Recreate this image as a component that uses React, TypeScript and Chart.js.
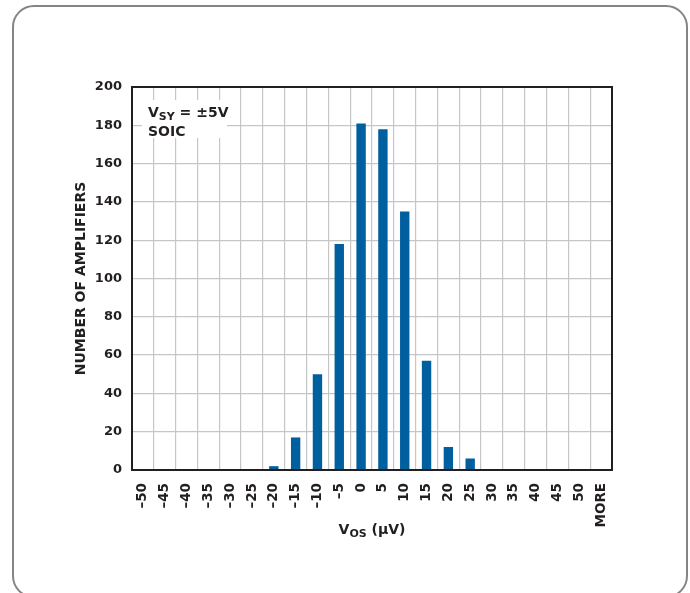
import React, { useEffect, useRef } from "react";
import { Chart, registerables } from "chart.js";

Chart.register(...registerables);

// ---- data ----
const categories = [
  "–50", "–45", "–40", "–35", "–30", "–25", "–20", "–15", "–10", "–5",
  "0", "5", "10", "15", "20", "25", "30", "35", "40", "45", "50", "MORE",
];
const amplifierCounts = [0, 0, 0, 0, 0, 0, 2, 17, 50, 118, 181, 178, 135, 57, 12, 6, 0, 0, 0, 0, 0, 0];
const yMin = 0;
const yMax = 200;
const yStep = 20;
const yAxisTitle = "NUMBER OF AMPLIFIERS";
type Part = { text: string; sub?: boolean };
const xAxisTitleParts: Part[] = [{ text: "V" }, { text: "OS", sub: true }, { text: " (μV)" }];
const noteLine1: Part[] = [{ text: "V" }, { text: "SY", sub: true }, { text: " = ±5V" }];
const noteLine2: Part[] = [{ text: "SOIC" }];

const FONT = "'DejaVu Sans', 'Liberation Sans', sans-serif";
const INK = "#231f20";
const BAR = "#005f9e";
const GRID = "#c6c6c6";

function drawRich(
  ctx: CanvasRenderingContext2D,
  parts: Part[],
  x: number,
  y: number,
  size: number,
  subSize: number,
  align: "left" | "center"
) {
  let total = 0;
  const widths = parts.map((p) => {
    ctx.font = `bold ${p.sub ? subSize : size}px ${FONT}`;
    const w = ctx.measureText(p.text).width;
    total += w;
    return w;
  });
  let cx = align === "center" ? x - total / 2 : x;
  ctx.textAlign = "left";
  ctx.textBaseline = "alphabetic";
  ctx.fillStyle = INK;
  parts.forEach((p, i) => {
    ctx.font = `bold ${p.sub ? subSize : size}px ${FONT}`;
    ctx.fillText(p.text, cx, y + (p.sub ? 3 : 0));
    cx += widths[i];
  });
}

const overlayPlugin = {
  id: "overlay",
  afterDraw(chart: any) {
    const { ctx, chartArea: a } = chart;
    ctx.save();
    // note box
    ctx.fillStyle = "#ffffff";
    ctx.fillRect(a.left + 10, a.top + 13, 85, 38);
    drawRich(ctx, noteLine1, a.left + 16, a.top + 30, 14, 11, "left");
    drawRich(ctx, noteLine2, a.left + 16, a.top + 48.5, 14, 11, "left");
    // x title
    drawRich(ctx, xAxisTitleParts, (a.left + a.right) / 2, a.bottom + 64, 14, 11, "center");
    // frame
    ctx.strokeStyle = INK;
    ctx.lineWidth = 2;
    ctx.strokeRect(a.left, a.top, a.right - a.left, a.bottom - a.top);
    ctx.restore();
  },
};

export default function App() {
  const canvasRef = useRef<HTMLCanvasElement | null>(null);

  useEffect(() => {
    if (!canvasRef.current) return;
    const chart = new Chart(canvasRef.current, {
      type: "bar",
      data: {
        labels: categories,
        datasets: [
          {
            data: amplifierCounts,
            backgroundColor: BAR,
            borderWidth: 0,
            barPercentage: 0.43,
            categoryPercentage: 1,
          },
        ],
      },
      options: {
        responsive: false,
        animation: false,
        layout: { padding: { left: 72, right: 78, top: 87, bottom: 0 } },
        plugins: {
          legend: { display: false },
          tooltip: { enabled: false },
          title: { display: false },
        },
        scales: {
          x: {
            offset: true,
            grid: { offset: true, color: GRID, lineWidth: 1.2, drawTicks: false },
            border: { display: false },
            ticks: {
              color: INK,
              font: { family: FONT, weight: "bold", size: 13.5 },
              minRotation: 90,
              maxRotation: 90,
              padding: 13,
              autoSkip: false,
            },
            afterFit(scale: any) {
              scale.height = 123;
            },
          },
          y: {
            min: yMin,
            max: yMax,
            grid: { color: GRID, lineWidth: 1.2, drawTicks: false },
            border: { display: false },
            ticks: {
              stepSize: yStep,
              color: INK,
              font: { family: FONT, weight: "bold", size: 13 },
              padding: 10,
            },
            title: {
              display: true,
              text: yAxisTitle,
              color: INK,
              font: { family: FONT, weight: "bold", size: 14 },
              padding: { top: 1, bottom: 0 },
            },
            afterFit(scale: any) {
              scale.width = 60;
            },
          },
        },
      },
      plugins: [overlayPlugin],
    });
    return () => chart.destroy();
  }, []);

  return (
    <div style={{ position: "fixed", left: 0, top: 0, width: 690, height: 593, background: "#fff", overflow: "hidden" }}>
      <div
        style={{
          position: "absolute",
          left: 12,
          top: 5,
          width: 676,
          height: 593,
          boxSizing: "border-box",
          border: "2px solid #858585",
          borderRadius: 22,
        }}
      />
      <canvas
        ref={canvasRef}
        width={690}
        height={593}
        style={{ position: "absolute", left: 0, top: 0, width: 690, height: 593 }}
      />
    </div>
  );
}
